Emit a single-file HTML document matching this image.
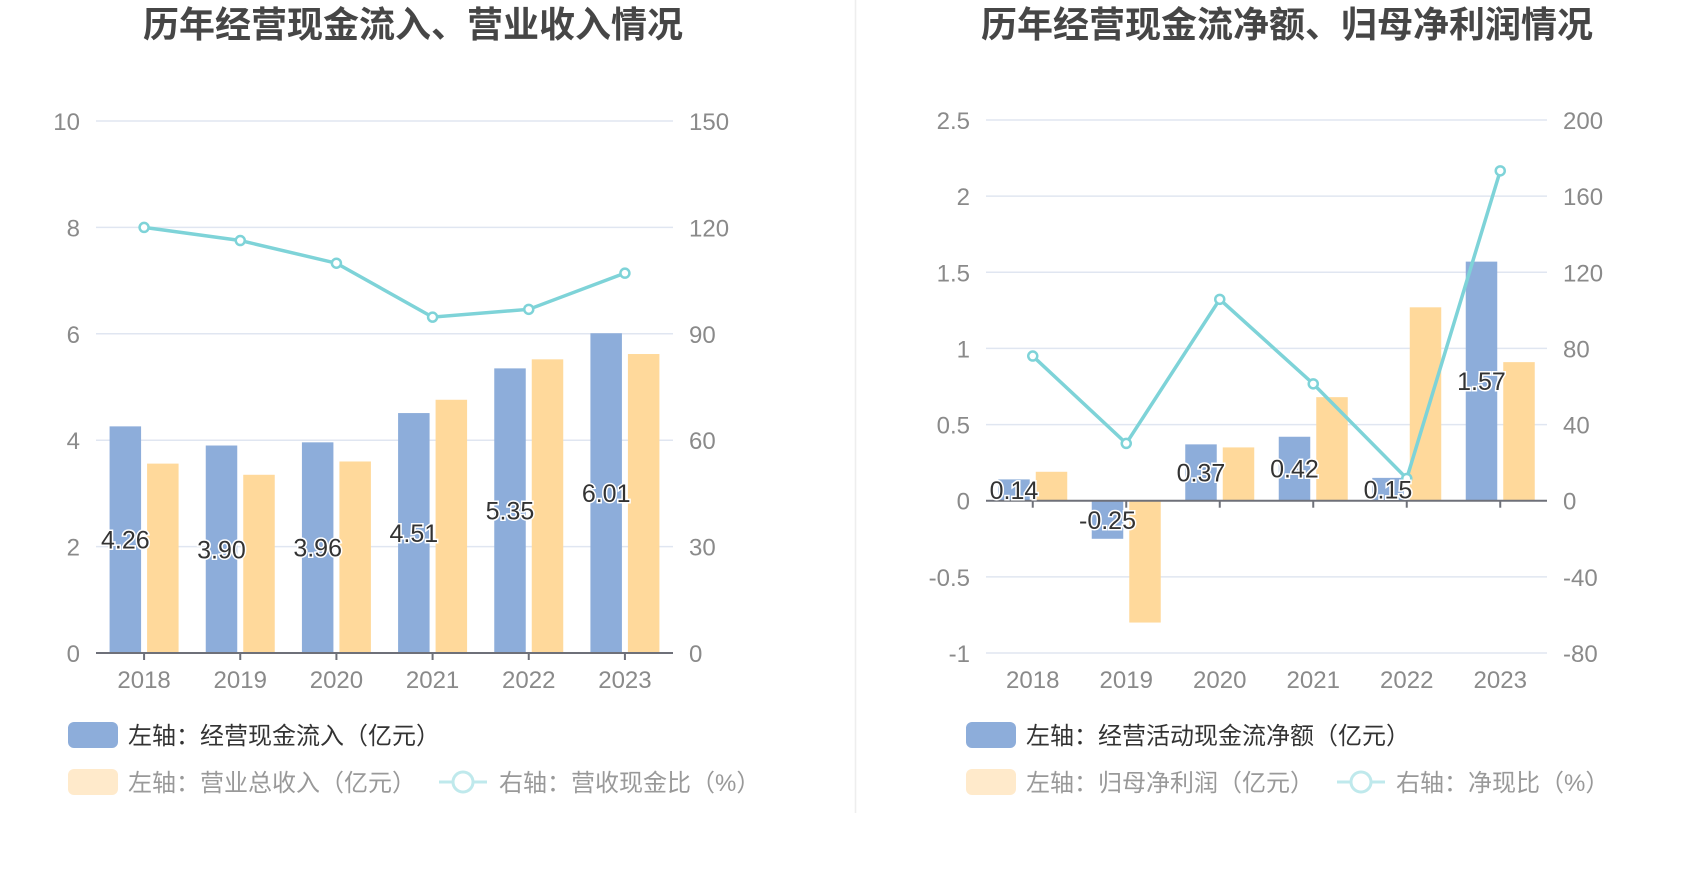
<!DOCTYPE html>
<html><head><meta charset="utf-8">
<style>
html,body{margin:0;padding:0;background:#fff;}
svg{display:block;font-family:"Liberation Sans","Noto Sans CJK SC",sans-serif;}
</style></head>
<body>
<svg id="c" width="1700" height="874" viewBox="0 0 1700 874">
<line x1="855.5" y1="0" x2="855.5" y2="813" stroke="#eeeeee" stroke-width="1.5"/>
<text x="413" y="37" text-anchor="middle" font-size="36" font-weight="bold" fill="#464646" font-family="'Liberation Sans','Noto Sans CJK SC',sans-serif">历年经营现金流入、营业收入情况</text>
<text x="1287" y="37" text-anchor="middle" font-size="36" font-weight="bold" fill="#464646" font-family="'Liberation Sans','Noto Sans CJK SC',sans-serif">历年经营现金流净额、归母净利润情况</text>
<g id="left"></g>
<g id="right"></g>
<rect x="68" y="722" width="50" height="26" rx="6" fill="#8DADDA"/>
<text x="128" y="744" font-size="24" fill="#333">左轴：经营现金流入（亿元）</text>
<rect x="68" y="769" width="50" height="26" rx="6" fill="#FFEACB"/>
<text x="128" y="791" font-size="24" fill="#999">左轴：营业总收入（亿元）</text>
<line x1="439" y1="782" x2="487" y2="782" stroke="#BFE9EC" stroke-width="3"/>
<circle cx="463" cy="782" r="10" fill="#fff" stroke="#BFE9EC" stroke-width="3"/>
<text x="499" y="791" font-size="24" fill="#999">右轴：营收现金比（%）</text>

<rect x="966" y="722" width="50" height="26" rx="6" fill="#8DADDA"/>
<text x="1026" y="744" font-size="24" fill="#333">左轴：经营活动现金流净额（亿元）</text>
<rect x="966" y="769" width="50" height="26" rx="6" fill="#FFEACB"/>
<text x="1026" y="791" font-size="24" fill="#999">左轴：归母净利润（亿元）</text>
<line x1="1337" y1="782" x2="1385" y2="782" stroke="#BFE9EC" stroke-width="3"/>
<circle cx="1361" cy="782" r="10" fill="#fff" stroke="#BFE9EC" stroke-width="3"/>
<text x="1396" y="791" font-size="24" fill="#999">右轴：净现比（%）</text>
</svg>
<script>
const years = ["2018","2019","2020","2021","2022","2023"];
// left chart
const cashInflow = [4.26, 3.90, 3.96, 4.51, 5.35, 6.01];
const revenue = [3.56, 3.35, 3.60, 4.76, 5.52, 5.62];
const cashRatio = [120.0, 116.3, 109.9, 94.7, 96.9, 107.1];
const leftTicks = [0, 2, 4, 6, 8, 10];
const leftRightTicks = [0, 30, 60, 90, 120, 150];
// right chart
const netCash = [0.14, -0.25, 0.37, 0.42, 0.15, 1.57];
const netProfit = [0.19, -0.80, 0.35, 0.68, 1.27, 0.91];
const netRatio = [76.0, 30.1, 105.8, 61.4, 11.7, 173.3];
const rightTicks = [-1, -0.5, 0, 0.5, 1, 1.5, 2, 2.5];
const rightRightTicks = [-80, -40, 0, 40, 80, 120, 160, 200];

const NS = "http://www.w3.org/2000/svg";
function mk(parent, tag, attrs){
  const e = document.createElementNS(NS, tag);
  for (const k in attrs) e.setAttribute(k, attrs[k]);
  parent.appendChild(e);
  return e;
}
function drawChart(g, cfg){
  const {x0, x1, yTop, yBot, lMin, lMax, rMin, rMax, lt, rt, blue, orange, line, prefix, labL, labR} = cfg;
  const catW = (x1 - x0) / years.length;
  const yL = v => yBot - (v - lMin) / (lMax - lMin) * (yBot - yTop);
  const yR = v => yBot - (v - rMin) / (rMax - rMin) * (yBot - yTop);
  const xc = i => x0 + catW * (i + 0.5);
  lt.forEach((t, i) => {
    const y = yL(t);
    if (t !== 0) {
      const gl = mk(g, "line", {x1: x0, x2: x1, y1: y, y2: y, stroke: "#E0E6F1", "stroke-width": 1.5});
      
      
    }
    const tl = mk(g, "text", {x: labL, y: y + 9, "text-anchor": "end", "font-size": 24, fill: "#8a8a8a"});
    tl.textContent = t;
    
    
    const tr = mk(g, "text", {x: labR, y: yL(t) + 9, "font-size": 24, fill: "#8a8a8a"});
    tr.textContent = rt[i];
    
    
  });
  const bw = 31.5, gap = 6;
  years.forEach((yr, i) => {
    const c = xc(i);
    const bv = blue[i], ov = orange[i];
    const b = mk(g, "rect", {x: c - gap/2 - bw, y: Math.min(yL(bv), yL(0)), width: bw, height: Math.abs(yL(bv) - yL(0)), fill: "#8DADDA"});
    
    
    const o = mk(g, "rect", {x: c + gap/2, y: Math.min(yL(ov), yL(0)), width: bw, height: Math.abs(yL(ov) - yL(0)), fill: "#FFD99B"});
    
    
  });
  const axY = yL(0);
  const ax = mk(g, "line", {x1: x0, x2: x1, y1: axY, y2: axY, stroke: "#6E7079", "stroke-width": 2});
  
  
  years.forEach((yr, i) => {
    const tk = mk(g, "line", {x1: xc(i), x2: xc(i), y1: axY, y2: axY + 7, stroke: "#6E7079", "stroke-width": 2});
    
    
    const xl = mk(g, "text", {x: xc(i), y: 688, "text-anchor": "middle", "font-size": 24, fill: "#8a8a8a"});
    xl.textContent = yr;
    
    
  });
  const pts = line.map((v, i) => xc(i) + "," + yR(v)).join(" ");
  const pl = mk(g, "polyline", {points: pts, fill: "none", stroke: "#7ED3D8", "stroke-width": 3.5});
  
  
  line.forEach((v, i) => {
    const m = mk(g, "circle", {cx: xc(i), cy: yR(v), r: 4.5, fill: "#fff", stroke: "#7ED3D8", "stroke-width": 2.5});
    
    
  });
  blue.forEach((v, i) => {
    const cx = xc(i) - gap/2 - bw/2;
    const cy = (yL(v) + yL(0)) / 2;
    const t = mk(g, "text", {x: cx, y: cy + 9, "text-anchor": "middle", "font-size": 25, fill: "#333", stroke: "#fff", "stroke-width": 3, "paint-order": "stroke"});
    t.textContent = v.toFixed(2);
    
    
  });
}
drawChart(document.getElementById("left"), {x0: 96, x1: 673, yTop: 121, yBot: 653, lMin: 0, lMax: 10, rMin: 0, rMax: 150,
  lt: leftTicks, rt: leftRightTicks, blue: cashInflow, orange: revenue, line: cashRatio, prefix: "left", labL: 80, labR: 689});
drawChart(document.getElementById("right"), {x0: 986, x1: 1547, yTop: 120, yBot: 653, lMin: -1, lMax: 2.5, rMin: -80, rMax: 200,
  lt: rightTicks, rt: rightRightTicks, blue: netCash, orange: netProfit, line: netRatio, prefix: "right", labL: 970, labR: 1563});
</script>
</body></html>
